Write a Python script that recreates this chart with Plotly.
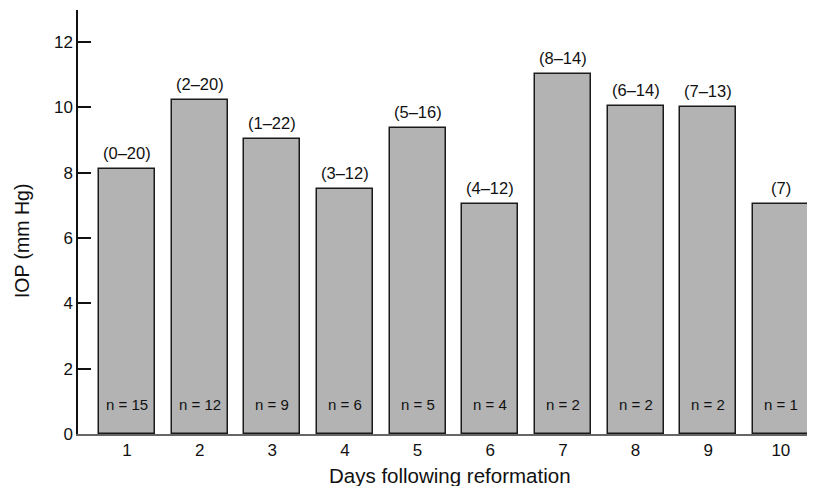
import plotly.graph_objects as go

days = [1, 2, 3, 4, 5, 6, 7, 8, 9, 10]
iop = [8.1, 10.22, 9.03, 7.51, 9.38, 7.03, 11.02, 10.04, 10.01, 7.03]
ranges = ["(0–20)", "(2–20)", "(1–22)", "(3–12)", "(5–16)", "(4–12)", "(8–14)", "(6–14)", "(7–13)", "(7)"]
ns = ["n = 15", "n = 12", "n = 9", "n = 6", "n = 5", "n = 4", "n = 2", "n = 2", "n = 2", "n = 1"]
y_ticks = [0, 2, 4, 6, 8, 10, 12]

FONT = "Liberation Sans, Arial, sans-serif"

fig = go.Figure()
fig.add_trace(go.Bar(
    x=days, y=iop, width=0.77,
    marker=dict(color="#b3b3b3", line=dict(color="#1a1a1a", width=1.5)),
    hoverinfo="skip",
))

annotations = []
for d, v, r, n in zip(days, iop, ranges, ns):
    annotations.append(dict(x=d, y=v, text=r, showarrow=False, xref="x", yref="y",
                            yanchor="bottom", yshift=5,
                            font=dict(family=FONT, size=16.5, color="#111")))
    annotations.append(dict(x=d, y=0.9, text=n, showarrow=False, xref="x", yref="y",
                            yanchor="middle",
                            font=dict(family=FONT, size=15, color="#111")))

annotations.append(dict(x=0.505, y=-0.097, xref="paper", yref="paper", text="Days following reformation",
                        showarrow=False, yanchor="middle",
                        font=dict(family=FONT, size=20.5, color="#111")))
annotations.append(dict(x=-0.076, y=0.455, xref="paper", yref="paper", text="IOP (mm Hg)",
                        showarrow=False, textangle=-90, xanchor="center", yanchor="middle",
                        font=dict(family=FONT, size=19.5, color="#111")))

fig.update_layout(
    width=815, height=486,
    margin=dict(l=70, r=8, t=2, b=60, autoexpand=False),
    plot_bgcolor="white", paper_bgcolor="white",
    showlegend=False,
    bargap=0,
    annotations=annotations,
    font=dict(family=FONT, size=17, color="#111"),
)
fig.update_xaxes(
    range=[0.326, 10.47], tickmode="array", tickvals=days, ticktext=[str(d) for d in days],
    showline=True, linecolor="#666", linewidth=1.5, ticks="", showgrid=False, zeroline=False,
    tickfont=dict(family=FONT, size=17, color="#111"),
)
fig.update_yaxes(
    range=[0, 12.98], tickmode="array", tickvals=y_ticks,
    showline=True, linecolor="#111", linewidth=1.5, ticks="inside", ticklen=13, tickwidth=1.5,
    tickcolor="#111", showgrid=False, zeroline=False,
    tickfont=dict(family=FONT, size=17, color="#111"),
)

fig.write_html("out.html")
